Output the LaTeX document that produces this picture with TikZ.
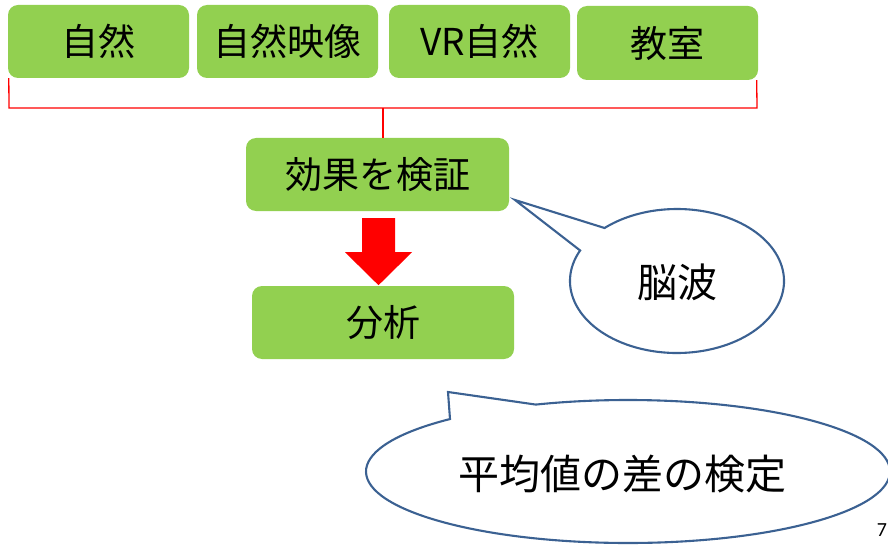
\documentclass[tikz,border=0pt]{standalone}
\usepackage{fontspec}
\setmainfont{Noto Sans CJK JP}
\newfontfamily\pgnum{Carlito}
\usetikzlibrary{calc}
\definecolor{boxgreen}{HTML}{92D050}
\definecolor{calloutblue}{HTML}{3B6192}
\tikzset{
  greenbox/.style={fill=boxgreen, rounded corners=10pt, minimum height=73pt, inner sep=0pt,
    font=\fontsize{37}{40}\selectfont},
  bracket/.style={draw=red, line width=1.3pt},
  callout/.style={draw=calloutblue, line width=2.1pt, fill=white, line join=miter},
  blockarrow/.style={fill=red},
}
\begin{document}
\begin{tikzpicture}[x=1pt,y=1pt]
\useasboundingbox (0,0) rectangle (888,558);
\clip (0,0) rectangle (888,558);
% top boxes
\node[greenbox, minimum width=181pt] (b1) at (98.5,516.5) {自然};
\node[greenbox, minimum width=181pt] (b2) at (287.5,516.5) {自然映像};
\node[greenbox, minimum width=181pt] (b3) at (479.5,516.5) {VR自然};
\node[greenbox, minimum width=181pt, minimum height=74pt] (b4) at (667.5,515) {教室};
% middle boxes
\node[greenbox, minimum width=263pt] (kouka) at (377.5,383.5) {効果を検証};
\node[greenbox, minimum width=262pt] (bunseki) at (383,235.5) {分析};
% bracket
\coordinate (busL) at (9,450);
\coordinate (busR) at (757,450);
\coordinate (busM) at (383,450);
\draw[bracket] ([xshift=1pt]b1.south west) -- (busL) -- (busR) -- ([xshift=-1.5pt]b4.south east);
\draw[bracket] (busM) -- (busM |- kouka.north);
% block arrow
\begin{scope}[shift={(kouka.south)}]
\fill[blockarrow] (-15.5,-7) -- (17.5,-7) -- (17.5,-41) -- (34.5,-41) -- (1,-74)
  -- (-32.5,-41) -- (-15.5,-41) -- cycle;
\end{scope}
% callout 1
\coordinate (nc) at (677,277);
\coordinate (ntip) at (515,358);
\draw[callout] ($(nc)+(132.6:107pt and 72pt)$) -- (ntip) -- ($(nc)+(154.9:107pt and 72pt)$)
  arc[start angle=154.9, end angle=492.6, x radius=107pt, y radius=72pt] -- cycle;
\node[font=\fontsize{40}{44}\selectfont] (nouha) at (677.5,276) {脳波};
% callout 2
\coordinate (hc) at (628,86.5);
\coordinate (htip) at (448,166);
\draw[callout] ($(hc)+(110.6:262pt and 71.5pt)$) -- (htip) -- ($(hc)+(132.8:262pt and 71.5pt)$)
  arc[start angle=132.8, end angle=470.6, x radius=262pt, y radius=71.5pt] -- cycle;
\node[font=\fontsize{41}{45}\selectfont] (kentei) at (622.5,84) {平均値の差の検定};
% page number
\node[font=\pgnum\fontsize{20}{22}\selectfont, inner sep=0pt] (pg) at (882,28) {7};
\end{tikzpicture}
\end{document}
